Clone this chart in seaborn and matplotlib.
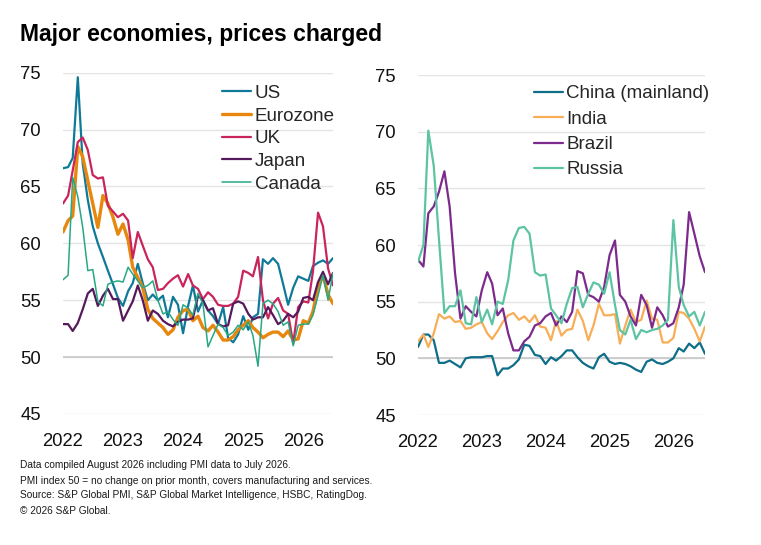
import pandas as pd
import matplotlib
matplotlib.use("Agg")
import matplotlib.pyplot as plt
import matplotlib.dates as mdates
import seaborn as sns

# -----------------------------------------------------------------------------
# Data: monthly PMI prices charged index, Jan 2022 - Jul 2026
# -----------------------------------------------------------------------------
months = pd.date_range("2022-01-01", periods=55, freq="MS")

us = [66.6, 66.7, 67.5, 74.6, 67.0, 63.8, 61.5, 60.0, 58.8, 57.6,
      56.4, 55.2, 54.5, 55.8, 56.5, 58.2, 56.5, 55.0, 55.5, 55.0,
      55.4, 53.5, 55.3, 54.6, 52.1, 54.5, 56.3, 54.0, 55.0, 54.1,
      53.6, 52.9, 54.4, 51.7, 51.3, 52.0, 53.6, 52.4, 53.5, 53.8,
      58.6, 58.2, 58.7, 58.2, 56.4, 54.6, 56.1, 57.1, 56.9, 56.7,
      58.0, 58.3, 58.5, 58.2, 58.7]
eurozone = [61.0, 62.0, 62.4, 68.5, 67.6, 65.5, 63.5, 61.4, 64.2, 63.5,
            62.3, 60.8, 61.7, 60.3, 57.9, 57.0, 56.1, 54.2, 53.4, 53.0,
            52.6, 52.0, 52.4, 53.5, 54.1, 54.2, 53.2, 53.6, 52.6, 52.3,
            52.8, 52.2, 51.5, 51.5, 51.8, 52.4, 52.8, 53.2, 52.6, 52.2,
            51.7, 52.0, 52.2, 52.2, 51.8, 52.3, 51.5, 51.6, 53.2, 53.0,
            54.0, 56.2, 57.2, 55.5, 54.7]
uk = [63.5, 64.2, 66.4, 68.9, 69.3, 68.2, 66.0, 65.7, 65.8, 63.3,
      62.8, 62.3, 62.6, 62.0, 58.7, 61.0, 59.8, 58.6, 57.9, 55.9,
      56.0, 56.5, 56.9, 57.2, 56.2, 57.3, 56.3, 56.0, 55.1, 55.7,
      55.3, 54.6, 54.5, 54.5, 54.7, 55.3, 57.6, 57.4, 57.1, 58.8,
      55.0, 53.4, 54.7, 55.2, 54.1, 53.8, 51.2, 54.4, 54.9, 54.8,
      57.5, 62.7, 61.5, 57.8, 56.3]
japan = [52.9, 52.9, 52.3, 53.0, 54.2, 55.6, 56.0, 54.5, 55.4, 56.0,
         55.1, 55.1, 53.2, 54.1, 54.9, 56.3, 55.0, 53.2, 54.1, 53.8,
         53.2, 52.9, 52.7, 53.1, 53.3, 53.3, 53.4, 55.4, 55.0, 54.1,
         54.3, 52.9, 52.7, 52.8, 54.7, 54.9, 54.7, 53.8, 53.3, 53.5,
         53.5, 54.4, 53.7, 52.9, 53.2, 53.8, 53.5, 54.0, 55.2, 55.3,
         55.0, 56.6, 57.5, 56.4, 57.4]
canada = [56.8, 57.2, 65.8, 64.1, 61.4, 57.6, 57.7, 54.9, 54.5, 56.4,
          56.6, 56.7, 56.6, 57.9, 57.3, 56.7, 56.1, 56.3, 56.7, 55.0,
          53.8, 54.0, 53.3, 52.8, 54.6, 54.3, 53.7, 55.6, 54.7, 50.9,
          51.9, 52.9, 52.6, 51.9, 52.2, 52.8, 52.4, 53.1, 51.9, 49.2,
          54.7, 55.0, 54.7, 54.0, 52.8, 53.1, 51.0, 52.8, 52.9, 52.9,
          53.7, 55.4, 57.2, 55.0, 57.4]

china = [51.0, 52.1, 52.1, 51.6, 49.6, 49.6, 49.8, 49.5, 49.2, 50.0,
         50.1, 50.1, 50.1, 50.2, 50.2, 48.5, 49.1, 49.1, 49.4, 49.9,
         51.2, 51.1, 50.3, 50.2, 49.5, 50.1, 49.8, 50.2, 50.7, 50.7,
         50.1, 49.6, 49.3, 49.1, 50.1, 50.4, 49.7, 49.5, 49.6, 49.5,
         49.3, 49.0, 48.8, 49.7, 49.9, 49.6, 49.5, 49.7, 50.0, 50.9,
         50.6, 51.3, 50.9, 51.4, 50.4]
india = [51.5, 52.1, 51.0, 52.2, 53.9, 53.5, 53.7, 53.2, 53.3, 52.6,
         52.7, 53.0, 53.2, 52.2, 51.7, 52.4, 53.2, 53.8, 54.0, 53.4,
         53.7, 53.2, 53.8, 52.8, 52.7, 51.6, 53.3, 52.0, 52.5, 52.6,
         54.3, 53.3, 51.6, 52.9, 54.8, 53.8, 53.8, 53.9, 51.3, 52.9,
         54.3, 53.2, 53.4, 55.1, 53.5, 53.4, 51.4, 51.4, 51.8, 54.1,
         54.0, 53.5, 52.6, 51.5, 52.8]
brazil = [58.7, 58.1, 62.8, 63.4, 64.7, 66.5, 63.4, 57.5, 53.5, 54.6,
          54.1, 53.7, 56.0, 57.6, 56.6, 53.8, 54.4, 52.2, 50.7, 50.7,
          51.5, 51.9, 52.9, 53.1, 53.7, 54.0, 52.9, 53.7, 53.2, 54.1,
          57.7, 57.5, 55.6, 55.4, 55.0, 56.3, 59.1, 60.4, 55.6, 55.0,
          53.7, 52.9, 55.6, 54.7, 52.7, 54.5, 53.8, 52.8, 53.1, 54.5,
          56.5, 62.9, 61.0, 59.0, 57.6]
russia = [58.5, 60.0, 70.1, 67.0, 60.5, 54.0, 54.6, 54.6, 56.0, 53.1,
          53.0, 55.4, 53.2, 54.3, 53.0, 55.0, 54.8, 56.9, 60.4, 61.5,
          61.6, 61.0, 57.6, 57.3, 57.4, 54.4, 53.8, 53.1, 54.8, 56.2,
          56.3, 54.5, 55.7, 56.7, 56.5, 55.7, 57.6, 54.7, 52.5, 52.1,
          53.4, 51.7, 52.5, 52.3, 52.5, 52.6, 52.9, 53.4, 62.2, 56.3,
          54.7, 53.7, 54.1, 52.9, 54.1]

left_series = [
    ("US", us, "#0f7a98", 1.6),
    ("Eurozone", eurozone, "#e8870e", 2.4),
    ("UK", uk, "#c9245c", 1.6),
    ("Japan", japan, "#561a5c", 1.6),
    ("Canada", canada, "#27a884", 1.1),
]
right_series = [
    ("China (mainland)", china, "#0e6d88", 1.6),
    ("India", india, "#f7ae57", 1.6),
    ("Brazil", brazil, "#7c2a8c", 1.6),
    ("Russia", russia, "#5cc4a3", 1.6),
]

footnotes = [
    "Data compiled August 2026 including PMI data to July 2026.",
    "PMI index 50 = no change on prior month, covers manufacturing and services.",
    "Source: S&P Global PMI, S&P Global Market Intelligence, HSBC, RatingDog.",
    "\u00a9 2026 S&P Global.",
]

# -----------------------------------------------------------------------------
# Style
# -----------------------------------------------------------------------------
sns.set_theme(style="white")
plt.rcParams["font.family"] = ["Liberation Sans", "DejaVu Sans"]

W, H = 761, 545
fig = plt.figure(figsize=(W / 100, H / 100), dpi=100)


def px_axes(x0, y0, x1, y1):
    """Axes from pixel box (left, top, right, bottom)."""
    return fig.add_axes([x0 / W, 1 - y1 / H, (x1 - x0) / W, (y1 - y0) / H])


def draw_panel(ax, series, legend_anchor, labelspacing):
    for name, values, color, lw in series:
        sns.lineplot(x=months, y=values, ax=ax, color=color, linewidth=lw,
                     label=name)

    ax.set_xlim(months[0], months[-1])
    ax.set_ylim(45, 75)
    ax.set_yticks([45, 50, 55, 60, 65, 70, 75])
    ax.xaxis.set_major_locator(mdates.YearLocator())
    ax.xaxis.set_major_formatter(mdates.DateFormatter("%Y"))
    ax.set_xlabel("")
    ax.set_ylabel("")

    ax.yaxis.grid(True, color="#e4e4e4", linewidth=1)
    ax.xaxis.grid(False)
    ax.axhline(50, color="#c4c4c4", linewidth=1.1, zorder=1)
    ax.set_axisbelow(True)
    for s in ax.spines.values():
        s.set_visible(False)
    ax.tick_params(axis="both", length=0, labelsize=13.3, colors="#111111")
    ax.tick_params(axis="y", pad=16)
    ax.tick_params(axis="x", pad=14)

    ax.legend(loc="upper left", bbox_to_anchor=legend_anchor, frameon=False,
              fontsize=13.5, handlelength=1.55, handletextpad=0.2,
              labelspacing=labelspacing, borderpad=0, borderaxespad=0)


ax_left = px_axes(63, 72.7, 333, 414)
draw_panel(ax_left, left_series, (0.588, 0.965), 0.30)

ax_right = px_axes(418, 75, 705, 415)
draw_panel(ax_right, right_series, (0.403, 0.970), 0.44)

# -----------------------------------------------------------------------------
# Title and notes
# -----------------------------------------------------------------------------
fig.text(20 / W, 1 - 41 / H, "Major economies, prices charged",
         fontsize=16.5, fontweight="bold", color="#000000", ha="left",
         va="baseline")

for k, line in enumerate(footnotes):
    fig.text(20 / W, 1 - (468.5 + 15 * k) / H, line, fontsize=7.3,
             color="#1a1a1a", ha="left", va="baseline")

fig.savefig("out.png", dpi=100)
